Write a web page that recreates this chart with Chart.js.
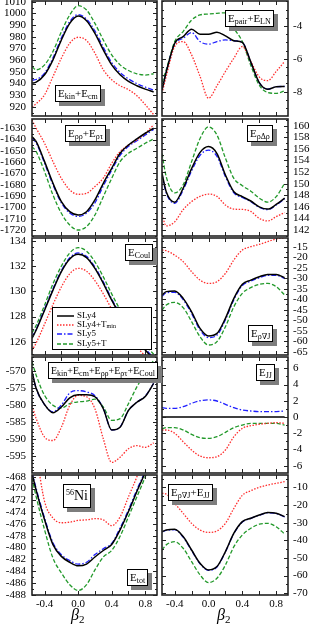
<!DOCTYPE html>
<html>
<head>
<meta charset="utf-8">
<script src="https://cdn.jsdelivr.net/npm/chart.js@4.4.1/dist/chart.umd.min.js"></script>
<style>
body { margin: 0; background: #fff; }
#fig { position: relative; width: 310px; height: 629px; overflow: hidden; font-family: "Liberation Serif", "DejaVu Serif", serif; color: #000; }
.pan { position: absolute; }
.lab { position: absolute; z-index: 2; background: #fff; border: 1px solid #000; box-shadow: 4px 4px 0 #7d7d7d;
       font-size: 11px; line-height: 13px; padding: 1px 2px; white-space: nowrap; }
.lab sub { font-size: 8px; vertical-align: -2px; line-height: 0; }
.lab sup { font-size: 8px; vertical-align: 5px; line-height: 0; }
.beta { position: absolute; font-size: 16px; font-style: italic; line-height: 16px; }
.beta sub { font-size: 11px; font-style: normal; vertical-align: -3px; line-height: 0; }
#leg { position: absolute; left: 52px; top: 307px; width: 98px; height: 41px; border: 1px solid #000; background: #fff; z-index: 2; font-size: 9px; }
#leg .row { position: absolute; left: 4px; height: 9px; line-height: 9px; white-space: nowrap; }
#leg svg { vertical-align: middle; margin-right: 3px; }
#leg sub { font-size: 6px; vertical-align: -1px; line-height: 0; }
</style>
</head>
<body>
<div id="fig"></div>
<script>
// beta_2 deformation grid
const beta = [-0.55, -0.5, -0.4, -0.3, -0.2, -0.1, 0, 0.1, 0.2, 0.3, 0.4, 0.5, 0.6, 0.7, 0.8, 0.9];
const xLabels = [-0.4, 0, 0.4, 0.8];

// E_kin + E_cm
const kinSLy4  = [940.4, 941.2, 947.5, 960.3, 977.3, 991.5, 997.8, 993.8, 983.0, 968.8, 956.0, 947.5, 941.9, 938.2, 935.3, 932.8];
const kinSLy4T = [920.0, 922.8, 930.5, 946.0, 961.7, 974.5, 979.6, 976.8, 966.0, 951.8, 943.3, 938.2, 934.8, 929.7, 922.0, 913.5];
const kinSLy5  = [943.0, 943.5, 949.0, 962.0, 979.0, 993.0, 999.0, 995.0, 985.0, 971.0, 958.0, 949.5, 944.0, 940.0, 937.0, 934.5];
const kinSLy5T = [954.6, 951.8, 956.0, 967.4, 984.4, 998.6, 1006.6, 1002.9, 991.5, 977.3, 964.6, 956.0, 951.2, 948.4, 947.3, 948.4];

// E_pair + E_LN
const pairSLy4  = [-7.9, -6.8, -5.05, -4.65, -4.2, -4.5, -4.5, -4.38, -4.6, -4.9, -5.0, -6.2, -7.45, -7.85, -7.7, -7.68];
const pairSLy4T = [-8.1, -7.07, -5.25, -4.95, -5.76, -7.07, -8.4, -7.64, -6.77, -5.96, -5.25, -6.16, -7.1, -7.33, -6.77, -6.16];
const pairSLy5  = [-7.9, -6.8, -5.1, -4.75, -4.4, -4.95, -5.11, -4.95, -4.85, -4.9, -5.0, -6.2, -7.45, -7.85, -7.7, -7.68];
const pairSLy5T = [-7.43, -6.67, -4.95, -4.34, -3.64, -3.33, -3.27, -3.23, -3.2, -4.14, -4.95, -6.4, -7.6, -8.05, -8.1, -7.95];

// E_rhorho + E_rhotau
const rrSLy4  = [-1637.4, -1641.8, -1659.5, -1678.7, -1694.9, -1703.8, -1706.7, -1703.8, -1693.4, -1678.7, -1665.4, -1652.1, -1644.8, -1639.4, -1634.4, -1630.0];
const rrSLy4T = [-1622.6, -1630.0, -1643.3, -1659.5, -1674.3, -1684.6, -1688.4, -1687.5, -1681.6, -1674.0, -1661.0, -1650.7, -1644.8, -1640.3, -1634.4, -1627.0];
const rrSLy5  = [-1639, -1643, -1661, -1680, -1696, -1705, -1708, -1705, -1696, -1681, -1667, -1654, -1646, -1641, -1636, -1631];
const rrSLy5T = [-1646.2, -1650.7, -1668.4, -1689.0, -1705.2, -1715.6, -1720.0, -1717.0, -1706.7, -1690.5, -1674.3, -1659.5, -1652.1, -1647.7, -1643.3, -1639.4];

// E_rho Delta rho
const rdrSLy4  = [151.8, 148.6, 146.8, 149.2, 152.6, 155.4, 156.4, 155.2, 151.5, 148.6, 147.75, 147.0, 146.0, 145.6, 146.4, 147.5];
const rdrSLy4T = [144.6, 142.7, 143.4, 145.5, 146.9, 147.8, 148.2, 147.8, 146.3, 145.6, 145.55, 145.2, 144.0, 143.55, 144.3, 145.0];
const rdrSLy5  = [151.5, 148.4, 146.6, 148.9, 152.2, 154.9, 155.8, 154.7, 151.2, 148.4, 147.6, 146.9, 145.9, 145.5, 146.3, 147.4];
const rdrSLy5T = [155.2, 151.2, 148.4, 149.8, 153.8, 157.8, 159.8, 158.4, 154.4, 150.9, 149.65, 148.7, 147.5, 146.8, 147.75, 150.05];

// E_Coul
const coulSLy4  = [126.27, 126.93, 128.5, 130.1, 131.56, 132.57, 132.94, 132.68, 131.83, 130.64, 129.3, 128.1, 127.06, 126.13, 125.34, 124.6];
const coulSLy4T = [125.3, 125.9, 127.4, 128.95, 130.35, 131.4, 131.83, 131.6, 130.85, 129.8, 128.6, 127.5, 126.5, 125.6, 124.85, 124.2];
const coulSLy5  = [126.35, 127.0, 128.6, 130.2, 131.65, 132.67, 133.05, 132.78, 131.93, 130.75, 129.4, 128.2, 127.15, 126.25, 125.45, 124.7];
const coulSLy5T = [126.7, 127.3, 128.9, 130.6, 132.0, 133.05, 133.47, 133.2, 132.35, 131.15, 129.8, 128.55, 127.5, 126.55, 125.75, 125.0];

// E_rho nabla J
const rdjSLy4  = [-38.0, -36.4, -36.1, -39.6, -46.0, -53.9, -57.5, -56.3, -49.1, -39.6, -32.9, -30.9, -29.3, -28.2, -28.2, -29.8];
const rdjSLy4T = [-16.6, -16.9, -19.0, -22.1, -26.9, -30.9, -32.5, -31.7, -27.7, -21.3, -16.6, -15.0, -13.9, -12.6, -11.3, -10.7];
const rdjSLy5  = [-38.6, -37.0, -36.7, -40.2, -46.8, -54.7, -58.3, -57.1, -49.8, -40.2, -33.5, -31.4, -29.8, -28.7, -28.6, -30.2];
const rdjSLy5T = [-45.2, -42.8, -41.5, -44.0, -50.7, -57.9, -61.8, -60.2, -53.1, -43.6, -37.2, -34.5, -32.9, -32.5, -34.0, -38.0];

// E_kin + E_cm + E_rhorho + E_rhotau + E_Coul
const sumSLy4  = [-570.3, -575.2, -579.9, -582.3, -580.6, -577.9, -577.0, -577.0, -577.6, -581.1, -587.3, -586.5, -581.6, -579.2, -577.5, -573.7];
const sumSLy4T = [-580.1, -584.0, -589.4, -590.4, -586.5, -580.1, -577.2, -577.6, -581.1, -589.9, -596.8, -595.3, -592.8, -591.9, -592.4, -591.1];
const sumSLy5  = [-570.3, -575.2, -579.9, -582.0, -580.0, -576.5, -575.8, -576.2, -577.3, -581.0, -587.3, -586.4, -581.6, -579.2, -577.4, -573.7];
const sumSLy5T = [-567.4, -571.3, -577.2, -580.1, -580.9, -579.6, -579.1, -578.9, -578.3, -580.6, -584.5, -584.0, -579.6, -574.7, -570.8, -566.9];

// E_JJ
const jjSLy4  = [0, 0, 0, 0, 0, 0, 0, 0, 0, 0, 0, 0, 0, 0, 0, 0];
const jjSLy4T = [-1.6, -1.6, -2.0, -3.04, -4.07, -4.81, -5.02, -4.89, -4.07, -2.43, -1.4, -1.07, -0.9, -0.78, -0.7, -0.78];
const jjSLy5  = [1.15, 1.07, 1.07, 1.27, 1.68, 2.0, 2.1, 1.97, 1.56, 1.15, 0.86, 0.74, 0.66, 0.66, 0.66, 0.74];
const jjSLy5T = [-1.48, -1.32, -1.32, -1.6, -2.14, -2.55, -2.63, -2.43, -1.89, -1.32, -0.99, -0.78, -0.78, -0.78, -0.78, -0.99];

// E_tot
const totSLy4  = [-467.4, -470.3, -475.3, -479.5, -481.5, -482.5, -483.1, -482.8, -481.6, -480.5, -479.5, -477.0, -473.9, -470.5, -467.2, -463.0];
const totSLy4T = [-460.0, -464.0, -472.2, -475.0, -475.8, -475.7, -475.4, -475.3, -475.1, -475.3, -476.3, -474.8, -471.4, -468.0, -464.0, -460.0];
const totSLy5  = [-467.2, -470.0, -475.0, -479.2, -481.2, -482.2, -482.8, -482.5, -481.2, -480.2, -479.3, -476.7, -473.6, -470.2, -467.0, -463.0];
const totSLy5T = [-468.2, -471.4, -477.0, -481.8, -484.3, -486.3, -487.3, -486.3, -483.8, -481.6, -480.5, -478.1, -474.8, -471.4, -468.0, -464.0];

// E_rho nabla J + E_JJ
const soSLy4  = [-35.1, -34.2, -33.8, -37.9, -45.5, -53.0, -56.8, -54.9, -46.4, -36.0, -29.4, -27.5, -25.7, -24.3, -24.7, -26.6];
const soSLy4T = [-13.4, -13.8, -19.1, -24.7, -30.4, -34.2, -35.5, -34.7, -30.4, -21.9, -14.5, -11.9, -10.0, -8.7, -7.7, -6.8];
const soSLy5  = [-35.3, -34.4, -34.0, -38.2, -45.8, -53.3, -57.0, -55.1, -46.6, -36.2, -29.6, -27.6, -25.8, -24.4, -24.8, -26.8];
const soSLy5T = [-45.5, -42.6, -40.8, -44.5, -52.1, -59.6, -64.0, -61.5, -54.0, -43.6, -37.0, -33.2, -30.9, -30.4, -32.3, -36.4];

const names = ['SLy4', 'SLy4+T<sub>min</sub>', 'SLy5', 'SLy5+T'];
const colors = ['#000000', '#ff2e2e', '#1f1fff', '#22992a'];
const dashes = [[], [1.5, 1.5], [5, 2, 1.5, 2], [4, 2]];
const widths = [1.5, 1.3, 1.3, 1.3];

// frame boxes of the five rows (pixels)
const rowTop = [1, 119, 238, 357, 475];
const rowBot = [116, 236, 355, 473, 595];

const panels = [
    { col: 0, row: 0, min: 912.3, max: 1010.6, step: 10, minor: 5, s: [kinSLy4, kinSLy4T, kinSLy5, kinSLy5T] },
    { col: 1, row: 0, min: -9.48, max: -2.48, step: 2, minor: 0.5, s: [pairSLy4, pairSLy4T, pairSLy5, pairSLy5T] },
    { col: 0, row: 1, min: -1725.3, max: -1621.8, step: 10, minor: 5, s: [rrSLy4, rrSLy4T, rrSLy5, rrSLy5T] },
    { col: 1, row: 1, min: 140.96, max: 161.16, step: 2, minor: 1, s: [rdrSLy4, rdrSLy4T, rdrSLy5, rdrSLy5T] },
    { col: 0, row: 2, min: 124.94, max: 134.24, step: 2, minor: 0.5, s: [coulSLy4, coulSLy4T, coulSLy5, coulSLy5T] },
    { col: 1, row: 2, min: -66.57, max: -10.86, step: 5, minor: 2.5, s: [rdjSLy4, rdjSLy4T, rdjSLy5, rdjSLy5T] },
    { col: 0, row: 3, min: -599.9, max: -565.97, step: 5, minor: 1, s: [sumSLy4, sumSLy4T, sumSLy5, sumSLy5T] },
    { col: 1, row: 3, min: -6.9, max: 7.39, step: 2, minor: 1, s: [jjSLy4, jjSLy4T, jjSLy5, jjSLy5T] },
    { col: 0, row: 4, min: -488.05, max: -467.7, step: 2, minor: 1, s: [totSLy4, totSLy4T, totSLy5, totSLy5T] },
    { col: 1, row: 4, min: -71, max: -3, step: 10, minor: 5, s: [soSLy4, soSLy4T, soSLy5, soSLy5T] }
];

// frame with inward ticks on all four sides
const framePlugin = {
    id: 'frame',
    afterDraw(chart, args, o) {
        const { ctx, chartArea: a, scales: { x, y } } = chart;
        ctx.save();
        ctx.strokeStyle = '#222';
        ctx.lineWidth = 1;
        ctx.beginPath();
        for (let v = -0.4; v <= 0.81; v += 0.2) {
            const px = Math.round(x.getPixelForValue(v)) + 0.5;
            ctx.moveTo(px, a.bottom); ctx.lineTo(px, a.bottom - 4);
            ctx.moveTo(px, a.top); ctx.lineTo(px, a.top + 4);
        }
        const start = Math.ceil(y.min / o.minor - 1e-9) * o.minor;
        for (let v = start; v <= y.max + 1e-9; v += o.minor) {
            const r = v / o.step;
            const len = Math.abs(r - Math.round(r)) < 1e-6 ? 4 : 2;
            const py = Math.round(y.getPixelForValue(v)) + 0.5;
            ctx.moveTo(a.left, py); ctx.lineTo(a.left + len, py);
            ctx.moveTo(a.right, py); ctx.lineTo(a.right - len, py);
        }
        ctx.stroke();
        ctx.lineWidth = 1.6;
        ctx.strokeRect(a.left, a.top, a.right - a.left, a.bottom - a.top);
        ctx.restore();
    }
};

const fig = document.getElementById('fig');
const tickFont = { family: 'Liberation Serif', size: 11 };

function fmt(v) {
    const r = Math.round(v * 1000) / 1000;
    return String(Object.is(r, -0) ? 0 : r);
}

panels.forEach(p => {
    const left = p.col === 0;
    const bottom = p.row === 4;
    const w = left ? 159 : 150;
    const h = rowBot[p.row] - rowTop[p.row] + 2 + (bottom ? 16 : 2);

    const div = document.createElement('div');
    div.className = 'pan';
    div.style.left = (left ? 0 : 160) + 'px';
    div.style.top = (rowTop[p.row] - 2) + 'px';
    const cv = document.createElement('canvas');
    cv.width = w; cv.height = h;
    cv.style.width = w + 'px'; cv.style.height = h + 'px';
    div.appendChild(cv);
    fig.appendChild(div);

    const xScale = {
        type: 'linear', min: -0.55, max: 0.94, display: bottom,
        grid: { display: false, drawTicks: false },
        border: { display: false },
        afterBuildTicks: s => { s.ticks = xLabels.map(v => ({ value: v })); },
        ticks: {
            padding: 3, color: '#000', font: tickFont, maxRotation: 0, autoSkip: false,
            callback: v => (Math.abs(v) < 1e-9 ? 0 : v).toFixed(1)
        }
    };
    if (bottom) {
        xScale.afterFit = s => { s.height = 16; s.paddingLeft = 0; s.paddingRight = 0; };
    }

    new Chart(cv, {
        type: 'line',
        data: {
            datasets: p.s.map((arr, k) => ({
                label: names[k],
                data: beta.map((b, i) => ({ x: b, y: arr[i] })),
                borderColor: colors[k],
                borderDash: dashes[k],
                borderWidth: widths[k],
                pointRadius: 0,
                fill: false,
                cubicInterpolationMode: 'monotone'
            }))
        },
        options: {
            responsive: false,
            animation: false,
            layout: { padding: { top: 2, bottom: bottom ? 0 : 2, left: left ? 0 : 2, right: left ? 2 : 0 } },
            scales: {
                x: xScale,
                y: {
                    type: 'linear', position: left ? 'left' : 'right', min: p.min, max: p.max,
                    grid: { display: false, drawTicks: false },
                    border: { display: false },
                    afterFit: s => { s.width = left ? 32 : 22; s.paddingTop = 0; s.paddingBottom = 0; },
                    ticks: {
                        stepSize: p.step, includeBounds: false, autoSkip: false,
                        padding: left ? 6 : 5, color: '#000', font: tickFont,
                        callback: v => fmt(v)
                    }
                }
            },
            plugins: {
                legend: { display: false },
                tooltip: { enabled: false },
                frame: { step: p.step, minor: p.minor }
            }
        },
        plugins: [framePlugin]
    });
});

// panel captions
const captions = [
    [55, 85, 11, 'E<sub>kin</sub>+E<sub>cm</sub>'],
    [225, 10, 11, 'E<sub>pair</sub>+E<sub>LN</sub>'],
    [65, 125, 11, 'E<sub>ρρ</sub>+E<sub>ρτ</sub>'],
    [247, 125, 11, 'E<sub>ρΔρ</sub>'],
    [125, 244, 11, 'E<sub>Coul</sub>'],
    [248, 325, 11, 'E<sub>ρ∇J</sub>'],
    [48, 362, 10, 'E<sub>kin</sub>+E<sub>cm</sub>+E<sub>ρρ</sub>+E<sub>ρτ</sub>+E<sub>Coul</sub>'],
    [256, 364, 11, 'E<sub>JJ</sub>'],
    [127, 569, 11, 'E<sub>tot</sub>'],
    [168, 484, 11, 'E<sub>ρ∇J</sub>+E<sub>JJ</sub>']
];
captions.forEach(c => {
    const d = document.createElement('div');
    d.className = 'lab';
    d.style.left = c[0] + 'px';
    d.style.top = c[1] + 'px';
    d.style.fontSize = c[2] + 'px';
    d.innerHTML = c[3];
    fig.appendChild(d);
});
const ni = document.createElement('div');
ni.className = 'lab';
ni.style.left = '63px'; ni.style.top = '484px';
ni.style.fontSize = '14px'; ni.style.lineHeight = '16px'; ni.style.padding = '3px 2px';
ni.innerHTML = '<sup>56</sup>Ni';
fig.appendChild(ni);

// legend
const leg = document.createElement('div');
leg.id = 'leg';
names.forEach((n, k) => {
    const r = document.createElement('div');
    r.className = 'row';
    r.style.top = (3 + k * 9.2) + 'px';
    r.innerHTML = '<svg width="17" height="6"><line x1="0" y1="3" x2="17" y2="3" stroke="' + colors[k] +
        '" stroke-width="' + widths[k] + '" stroke-dasharray="' + (dashes[k].join(' ') || 'none') + '"/></svg>' + n;
    leg.appendChild(r);
});
fig.appendChild(leg);

// axis titles
[[71, 607], [217, 607]].forEach(pos => {
    const b = document.createElement('div');
    b.className = 'beta';
    b.style.left = pos[0] + 'px';
    b.style.top = pos[1] + 'px';
    b.innerHTML = 'β<sub>2</sub>';
    fig.appendChild(b);
});
</script>
</body>
</html>
